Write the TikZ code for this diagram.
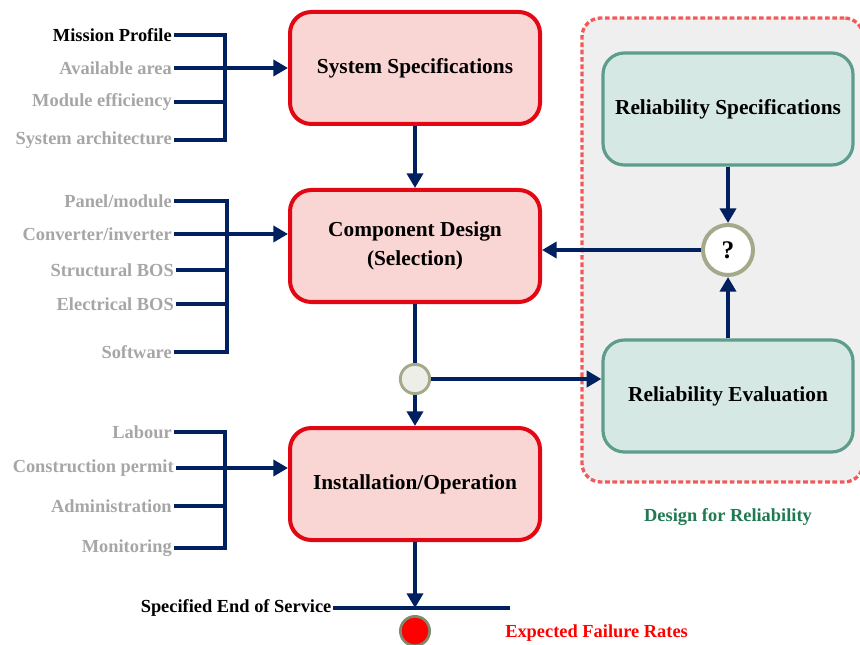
\documentclass[tikz,border=0pt]{standalone}
\usepackage{fontspec}
\setmainfont{Liberation Serif}
\usetikzlibrary{arrows.meta}
\definecolor{navy}{HTML}{002060}
\definecolor{boxred}{HTML}{E30613}
\definecolor{boxpink}{HTML}{F9D5D3}
\definecolor{relgreen}{HTML}{5C9E8B}
\definecolor{relfill}{HTML}{D6E8E3}
\definecolor{dfrgray}{HTML}{EFEFEF}
\definecolor{dfrdash}{HTML}{F25A5A}
\definecolor{labgray}{HTML}{A6A6A6}
\definecolor{ringgray}{HTML}{A3AA8A}
\definecolor{dfrtext}{HTML}{1F7A52}
\tikzset{
  specbox/.style={draw=boxred,fill=boxpink,rounded corners=16pt,line width=3pt,align=center,minimum width=187.5pt,minimum height=84pt,font=\fontsize{16}{21.5}\selectfont\bfseries},
  relbox/.style={draw=relgreen,fill=relfill,rounded corners=16pt,line width=2.4pt,align=center,minimum width=187.5pt,minimum height=84pt,font=\fontsize{16}{21.5}\selectfont\bfseries},
  dfrbox/.style={draw=dfrdash,fill=dfrgray,rounded corners=14pt,line width=2.5pt,dash pattern=on 3.5pt off 2pt,minimum width=210.75pt,minimum height=348pt},
  inlabel/.style={anchor=east,inner sep=1.5pt,text=labgray,font=\fontsize{13.8}{16}\selectfont\bfseries},
  bar/.style={navy,line width=3pt},
  arr/.style={navy,line width=3pt,-{Triangle[length=11pt,width=12pt]}},
  qnode/.style={circle,draw=ringgray,fill=white,line width=3pt,minimum size=37.5pt,inner sep=0pt,font=\fontsize{19}{20}\selectfont\bfseries},
  junct/.style={circle,draw=ringgray,fill=ringgray!20,line width=2.2pt,minimum size=22pt,inner sep=0pt},
  faildot/.style={circle,draw=ringgray!80!black,fill=red,line width=2pt,minimum size=22pt,inner sep=0pt}
}
\begin{document}
\begin{tikzpicture}[x=0.75pt,y=-0.75pt]
  \useasboundingbox (0,0) rectangle (860,645);
  \node[dfrbox] (dfr) at (722.5,250) {};

  \node[specbox] (syspec) at (415,68) {System Specifications};
  \node[specbox] (comp) at (415,246) {Component Design\\(Selection)};
  \node[specbox] (inst) at (415,484) {Installation/Operation};
  \node[relbox] (relspec) at (728,109) {Reliability Specifications};
  \node[relbox] (releval) at (728,396) {Reliability Evaluation};
  \node[qnode] (q) at (728,250) {?};
  \node[junct] (jn) at (415,379) {};

  \node[inlabel,text=black] (mp) at (174,35) {Mission Profile};
  \node[inlabel] (avail) at (174,68) {Available area};
  \node[inlabel] (modeff) at (174,102) {Module efficiency};
  \node[inlabel] (sysarch) at (174,140) {System architecture};
  \coordinate (b1) at (225,90);
  \draw[bar] (mp.east) -| (b1) |- (sysarch.east);
  \draw[bar] (modeff.east) -- (modeff.east -| b1);
  \draw[arr] (avail.east) -- (syspec.west);

  \node[inlabel] (panel) at (174,201) {Panel/module};
  \node[inlabel] (conv) at (174,234) {Converter/inverter};
  \node[inlabel] (struct) at (176,270) {Structural BOS};
  \node[inlabel] (elec) at (176,304) {Electrical BOS};
  \node[inlabel] (soft) at (174,352) {Software};
  \coordinate (b2) at (227,280);
  \draw[bar] (panel.east) -| (b2) |- (soft.east);
  \draw[bar] (struct.east) -- (struct.east -| b2);
  \draw[bar] (elec.east) -- (elec.east -| b2);
  \draw[arr] (conv.east) -- (conv.east -| comp.west);

  \node[inlabel] (labour) at (174,432) {Labour};
  \node[inlabel] (permit) at (176,468) {Construction permit};
  \node[inlabel] (admin) at (174,506) {Administration};
  \node[inlabel] (monit) at (174,548) {Monitoring};
  \coordinate (b3) at (225,490);
  \draw[bar] (labour.east) -| (b3) |- (monit.east);
  \draw[bar] (admin.east) -- (admin.east -| b3);
  \draw[arr] (permit.east) -- (permit.east -| inst.west);

  \draw[arr] (syspec) -- (comp);
  \draw[bar] (comp) -- (jn);
  \draw[arr] (jn) -- (inst);
  \draw[arr] (jn) -- (jn -| releval.west);
  \draw[arr] (releval) -- (q);
  \draw[arr] (relspec) -- (q);
  \draw[arr] (q) -- (q -| comp.east);

  \node[anchor=east,inner sep=1pt,font=\fontsize{13.8}{16}\selectfont\bfseries] (eos) at (333,608) {Specified End of Service};
  \coordinate (eosr) at (510,608);
  \draw[bar] (eos.east) -- (eosr);
  \draw[arr] (inst) -- (inst |- eosr);
  \node[faildot] (fail) at (415,631) {};
  \node[anchor=west,inner sep=0pt,text=red,font=\fontsize{13.8}{16}\selectfont\bfseries] (efr) at (505,633) {Expected Failure Rates};
  \node[text=dfrtext,font=\fontsize{13.8}{16}\selectfont\bfseries] (dfrlabel) at (728,517) {Design for Reliability};
\end{tikzpicture}
\end{document}
